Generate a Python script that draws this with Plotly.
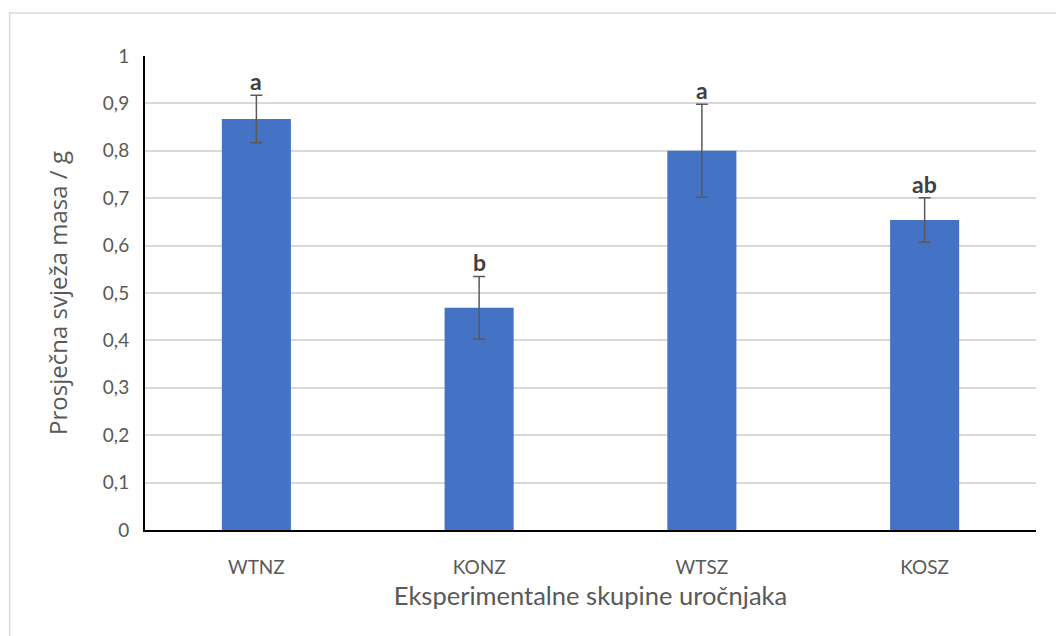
import plotly.graph_objects as go

categories = ["WTNZ", "KONZ", "WTSZ", "KOSZ"]
means = [0.867, 0.469, 0.800, 0.654]
errors = [0.050, 0.066, 0.098, 0.047]
letters = ["a", "b", "a", "ab"]
y_ticks = [0, 0.1, 0.2, 0.3, 0.4, 0.5, 0.6, 0.7, 0.8, 0.9, 1]
y_tick_labels = ["0", "0,1", "0,2", "0,3", "0,4", "0,5", "0,6", "0,7", "0,8", "0,9", "1"]

FONT = "Lato, Calibri, sans-serif"
GREY = "#595959"

fig = go.Figure()
fig.add_trace(go.Bar(
    x=categories, y=means,
    marker=dict(color="#4472C4", line=dict(width=0)),
    error_y=dict(type="data", array=errors, visible=True,
                 color=GREY, thickness=1.5, width=6),
    hoverinfo="skip",
))

for c, m, e, t in zip(categories, means, errors, letters):
    fig.add_annotation(x=c, y=m + e, text="<b>" + t + "</b>", showarrow=False,
                       yanchor="bottom", yshift=-2,
                       font=dict(family=FONT, size=23, color="#404040"))

fig.add_shape(type="rect", xref="paper", yref="paper",
              x0=-0.152, x1=1.05, y0=-0.25, y1=1.0907,
              line=dict(color="#d9d9d9", width=1.5), layer="below")

fig.update_layout(
    width=1056, height=628,
    margin=dict(l=137, r=28, t=48, b=106),
    paper_bgcolor="white", plot_bgcolor="white",
    bargap=0.69,
    showlegend=False,
    xaxis=dict(
        automargin=False,
        showline=True, linecolor="black", linewidth=2,
        ticks="", tickfont=dict(family=FONT, size=19, color=GREY),
        ticklabelstandoff=19,
        title=dict(text="Eksperimentalne skupine uročnjaka",
                   font=dict(family=FONT, size=25.5, color=GREY), standoff=10),
    ),
    yaxis=dict(
        automargin=False,
        range=[0, 1], tickvals=y_ticks, ticktext=y_tick_labels,
        showline=True, linecolor="black", linewidth=2,
        showgrid=True, gridcolor="#d9d9d9", gridwidth=1.5,
        zeroline=False, ticks="",
        tickfont=dict(family=FONT, size=19, color=GREY),
        ticklabelstandoff=10,
        title=dict(text="Prosječna svježa masa / g",
                   font=dict(family="Open Sans, sans-serif", size=24, color=GREY),
                   standoff=28),
    ),
)

fig.write_html("out.html")
